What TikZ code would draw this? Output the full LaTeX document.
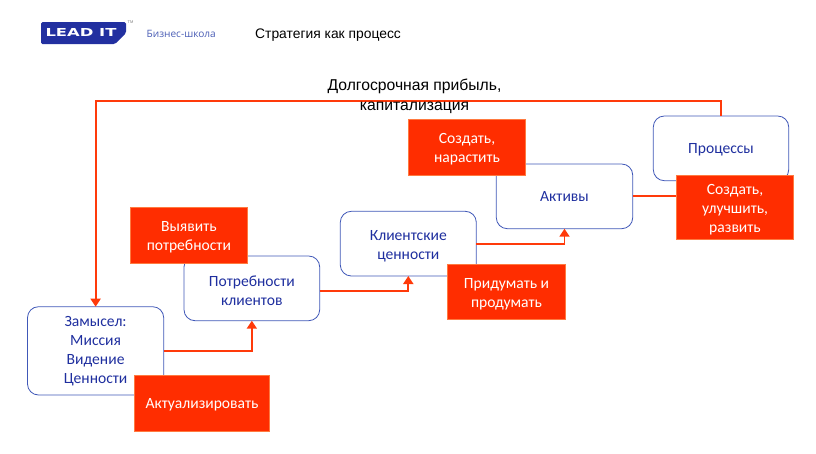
\documentclass[tikz,border=0pt]{standalone}
\usepackage{fontspec}
\setmainfont{Carlito}
\newfontfamily\lib{Liberation Sans}
\newfontfamily\wide{Open Sans}
\newfontfamily\logofont{DejaVu Sans}
\usetikzlibrary{arrows.meta,calc}
\definecolor{redbox}{HTML}{FF2D00}
\definecolor{redline}{HTML}{FF3A0A}
\definecolor{redborder}{HTML}{FF7A40}
\definecolor{bluetxt}{HTML}{1F2F9F}
\definecolor{blueline}{HTML}{4058B8}
\definecolor{logoblue}{HTML}{2230A0}
\definecolor{subblue}{HTML}{4A5DB5}
\newcommand{\topstrut}{\rule{0pt}{14.5pt}}
\newcommand{\smallstrut}{\rule{0pt}{12.5pt}}
\tikzset{
  x=1pt,y=-1pt,
  stage/.style={draw=blueline,line width=0.8pt,rounded corners=11pt,fill=white,align=center,
    text=bluetxt,font=\fontsize{15.6}{19}\selectfont,inner sep=0pt,anchor=north west,outer sep=0pt},
  action/.style={draw=redborder,line width=0.6pt,fill=redbox,align=center,text=white,
    font=\fontsize{15.6}{19}\selectfont,inner sep=0pt,anchor=north west,outer sep=0pt},
  link/.style={draw=redline,line width=1.8pt,-{Triangle[length=8pt,width=10pt]}},
  plainlink/.style={draw=redline,line width=1.8pt},
  heading/.style={font=\lib\fontsize{15.7}{20}\selectfont,text=black,align=center,inner sep=0pt},
}
\begin{document}
\begin{tikzpicture}
\useasboundingbox (0,0) rectangle (816,453);
% logo
\fill[logoblue,rounded corners=1.5pt] (41,22) -- (126,22) -- (126,33) -- (115,44) -- (41,44) -- cycle;
\node[inner sep=0pt,text=white,font=\logofont\bfseries\fontsize{11}{11}\selectfont,xscale=1.49] (logo) at (81,32) {LEAD IT};
\node[inner sep=0pt,text=gray,font=\lib\fontsize{4}{4}\selectfont] (tm) at (130.5,22.5) {TM};
\node[inner sep=0pt,anchor=west,text=subblue,font=\wide\fontsize{10.1}{11}\selectfont] (school) at (146.5,33.5) {Бизнес-школа};
\node[inner sep=0pt,anchor=west,text=black,font=\lib\fontsize{13.85}{16}\selectfont] (title) at (255,35) {Стратегия как процесс};
% stages
\node[stage,minimum width=136.2pt,minimum height=88.3pt] (zam) at (27.5,306.7) {Замысел:\\Миссия\\Видение\\Ценности};
\node[stage,minimum width=135.7pt,minimum height=64.7pt] (pot) at (184,256) {\topstrut Потребности\\клиентов};
\node[stage,minimum width=136pt,minimum height=64.7pt] (kli) at (340.3,211.3) {\topstrut Клиентские\\ценности};
\node[stage,minimum width=136.4pt,minimum height=64.7pt] (akt) at (496.3,164) {Активы};
\node[stage,minimum width=135.4pt,minimum height=64.7pt] (pro) at (653.3,116) {\smallstrut Процессы};
% connectors
\draw[link] (zam.east) -| (pot.south);
\draw[link] ([yshift=-2.3pt]pot.east) -| (kli.south);
\draw[link] (kli.east) -| (akt.south);
\draw[plainlink] (akt.east) -| (pro.south);
\coordinate (top) at (721,101);
\draw[link] (pro.north) |- (top) -| (zam.north);
% actions
\node[action,minimum width=135.4pt,minimum height=55.6pt] (a1) at (134.3,375.7) {\smallstrut Актуализировать};
\node[action,minimum width=117.7pt,minimum height=56pt] (a2) at (130,207.3) {\topstrut Выявить\\потребности};
\node[action,minimum width=117.4pt,minimum height=55.3pt] (a3) at (408.3,119.7) {\topstrut Создать,\\нарастить};
\node[action,minimum width=117.6pt,minimum height=55.7pt] (a4) at (447.7,264) {\topstrut Придумать и\\продумать};
\node[action,minimum width=117.4pt,minimum height=64pt] (a5) at (676.3,175.3) {\topstrut Создать,\\улучшить,\\развить};
\node[heading] (profit) at (414.5,96.5) {Долгосрочная прибыль,\\капитализация};
\end{tikzpicture}
\end{document}
